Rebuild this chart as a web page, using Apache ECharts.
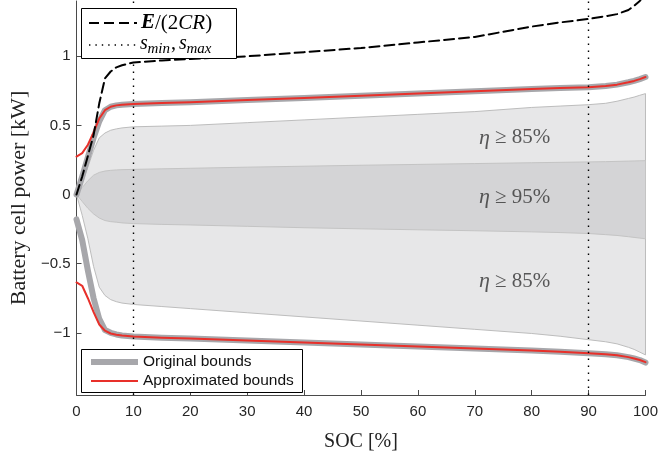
<!DOCTYPE html>
<html>
<head>
<meta charset="utf-8">
<script src="https://cdn.jsdelivr.net/npm/echarts@6/dist/echarts.min.js"></script>
<style>
  html, body { margin: 0; padding: 0; background: #fff; }
  #chart { width: 661px; height: 457px; }
</style>
</head>
<body>
<div id="chart"></div>
<script>
// State of charge sample points [%]
const soc = [0, 1, 2, 3, 4, 5, 6, 7, 8, 10, 15, 20, 30, 40, 50, 60, 70, 80, 85, 90, 93, 95, 97, 98, 99, 100];

// Energy-limited power E/(2CR) [kW]
const energyLimit = [0, 0.13, 0.28, 0.43, 0.66, 0.84, 0.89, 0.92, 0.935, 0.955, 0.97, 0.98, 1.0, 1.03, 1.06, 1.1, 1.14, 1.215, 1.245, 1.27, 1.29, 1.305, 1.335, 1.365, 1.40, 1.46];

// Original power bounds [kW]
const origUpper = [0, 0.13, 0.27, 0.41, 0.53, 0.61, 0.635, 0.645, 0.65, 0.655, 0.662, 0.668, 0.683, 0.699, 0.715, 0.731, 0.747, 0.763, 0.77, 0.776, 0.785, 0.795, 0.812, 0.822, 0.835, 0.85];
const origLower = [-0.18, -0.33, -0.55, -0.75, -0.9, -0.98, -1.0, -1.012, -1.02, -1.026, -1.035, -1.042, -1.056, -1.07, -1.085, -1.099, -1.113, -1.128, -1.137, -1.148, -1.155, -1.163, -1.176, -1.186, -1.197, -1.215];

// Approximated power bounds [kW]
const approxUpper = [0.275, 0.30, 0.36, 0.45, 0.55, 0.61, 0.635, 0.645, 0.65, 0.655, 0.662, 0.668, 0.683, 0.699, 0.715, 0.731, 0.747, 0.763, 0.77, 0.776, 0.785, 0.795, 0.812, 0.822, 0.835, 0.85];
const approxLower = [-0.636, -0.66, -0.75, -0.85, -0.94, -0.985, -1.005, -1.014, -1.02, -1.026, -1.035, -1.042, -1.056, -1.07, -1.085, -1.099, -1.113, -1.128, -1.137, -1.148, -1.155, -1.163, -1.176, -1.186, -1.197, -1.212];

// Efficiency regions: eta >= 85% and eta >= 95% [kW]
const eff85Upper = [0, 0.08, 0.2, 0.32, 0.41, 0.445, 0.465, 0.475, 0.482, 0.49, 0.495, 0.5, 0.52, 0.54, 0.56, 0.58, 0.6, 0.63, 0.64, 0.65, 0.66, 0.675, 0.695, 0.705, 0.718, 0.73];
const eff85Lower = [0, -0.15, -0.32, -0.52, -0.67, -0.73, -0.76, -0.775, -0.785, -0.795, -0.81, -0.825, -0.855, -0.885, -0.915, -0.945, -0.975, -1.005, -1.025, -1.05, -1.065, -1.08, -1.105, -1.12, -1.14, -1.16];
const eff95Upper = [0, 0.05, 0.10, 0.14, 0.16, 0.17, 0.175, 0.178, 0.18, 0.182, 0.186, 0.19, 0.198, 0.205, 0.212, 0.218, 0.224, 0.23, 0.233, 0.236, 0.238, 0.24, 0.242, 0.243, 0.244, 0.245];
const eff95Lower = [0, -0.05, -0.10, -0.14, -0.17, -0.188, -0.196, -0.2, -0.205, -0.21, -0.216, -0.22, -0.23, -0.24, -0.248, -0.255, -0.262, -0.27, -0.275, -0.282, -0.29, -0.296, -0.305, -0.31, -0.315, -0.32];

// SOC limits s_min, s_max [%]
const socLimits = [10, 90];

// Region annotations: [SOC, power, text]
const regionLabels = [
  [77, 0.41, '85%'],
  [77, -0.02, '95%'],
  [77, -0.63, '85%']
];

// Axis tick values
const xTicks = [0, 10, 20, 30, 40, 50, 60, 70, 80, 90, 100];
const yTicks = [-1, -0.5, 0, 0.5, 1];

const serif = "'Liberation Serif', 'DejaVu Serif', serif";
const sans = "'Liberation Sans', Arial, sans-serif";

const pairs = arr => soc.map((s, i) => [s, arr[i]]);

// Filled region between an upper and a lower boundary
function band(upper, lower, fill, stroke, z) {
  return {
    type: 'custom',
    coordinateSystem: 'cartesian2d',
    clip: true,
    silent: true,
    z: z,
    data: [[0, 0]],
    encode: { x: 0, y: 1 },
    renderItem: (params, api) => {
      const pts = [];
      for (let i = 0; i < soc.length; i++) pts.push(api.coord([soc[i], upper[i]]));
      for (let i = soc.length - 1; i >= 0; i--) pts.push(api.coord([soc[i], lower[i]]));
      return {
        type: 'polygon',
        shape: { points: pts },
        style: { fill: fill, stroke: stroke, lineWidth: 1 }
      };
    }
  };
}

function line(arr, color, width, dash, z) {
  return {
    type: 'line',
    data: pairs(arr),
    showSymbol: false,
    silent: true,
    clip: true,
    z: z,
    lineStyle: { color: color, width: width, type: dash || 'solid', cap: 'round', join: 'round' }
  };
}

const minusFmt = v => (v < 0 ? '\u2212' + Math.abs(v) : String(v));

const chart = echarts.init(document.getElementById('chart'), null, { renderer: 'canvas' });

chart.setOption({
  animation: false,
  backgroundColor: '#fff',
  grid: { left: 74, right: 13, top: 1, bottom: 57, containLabel: false },
  xAxis: {
    type: 'value',
    min: 0,
    max: 100,
    interval: 10,
    name: 'SOC [%]',
    nameLocation: 'middle',
    nameGap: 37,
    nameTextStyle: { fontFamily: serif, fontSize: 20, color: '#222' },
    axisLine: { show: true, onZero: false, lineStyle: { color: '#4a4a4a', width: 1 } },
    axisTick: { show: true, inside: true, length: 5, lineStyle: { color: '#4a4a4a' } },
    axisLabel: { fontFamily: sans, fontSize: 15, color: '#262626', margin: 9, customValues: xTicks },
    splitLine: { show: false }
  },
  yAxis: {
    type: 'value',
    min: -1.45,
    max: 1.4,
    name: 'Battery cell power [kW]',
    nameLocation: 'middle',
    nameGap: 40,
    nameTextStyle: { fontFamily: serif, fontSize: 22, color: '#222' },
    axisLine: { show: true, onZero: false, lineStyle: { color: '#4a4a4a', width: 1 } },
    axisTick: { show: true, inside: true, length: 5, customValues: yTicks, lineStyle: { color: '#4a4a4a' } },
    axisLabel: { fontFamily: sans, fontSize: 15, color: '#262626', margin: 6, customValues: yTicks, formatter: minusFmt },
    splitLine: { show: false }
  },
  series: [
    band(eff85Upper, eff85Lower, '#e7e7e8', '#bdbdbd', 1),
    band(eff95Upper, eff95Lower, '#d4d4d6', '#c4c4c4', 2),
    line(origUpper, '#a7a7ab', 6, 'solid', 3),
    line(origLower, '#a7a7ab', 6, 'solid', 3),
    line(approxUpper, '#e8302a', 2, 'solid', 4),
    line(approxLower, '#e8302a', 2, 'solid', 4),
    line(energyLimit, '#000', 2, [10, 5], 5),
    {
      type: 'line',
      data: [],
      silent: true,
      z: 6,
      markLine: {
        silent: true,
        symbol: 'none',
        label: { show: false },
        lineStyle: { color: '#000', width: 1.4, type: [1.4, 5.6] },
        data: socLimits.map(s => ({ xAxis: s }))
      }
    },
    {
      type: 'scatter',
      data: regionLabels.map(r => [r[0], r[1]]),
      symbolSize: 0,
      silent: true,
      z: 7,
      label: {
        show: true,
        position: 'inside',
        formatter: p => '{i|\u03B7} \u2265 ' + regionLabels[p.dataIndex][2],
        fontFamily: serif,
        fontSize: 21,
        color: '#333',
        rich: { i: { fontFamily: serif, fontStyle: 'italic', fontSize: 22, color: '#333' } }
      }
    }
  ],
  graphic: [
    // upper legend: energy limit and SOC limits
    { type: 'rect', z: 100, shape: { x: 81.5, y: 8.5, width: 155, height: 50 }, style: { fill: '#fff', stroke: '#000', lineWidth: 1 } },
    { type: 'line', z: 101, shape: { x1: 89, y1: 23, x2: 137, y2: 23 }, style: { stroke: '#000', lineWidth: 2, lineDash: [10, 5] } },
    {
      type: 'text', z: 101, x: 141, y: 23,
      style: {
        text: '{b|E}{n|/(2}{i|CR}{n|)}',
        verticalAlign: 'middle',
        rich: {
          b: { fontFamily: serif, fontStyle: 'italic', fontWeight: 'bold', fontSize: 21, fill: '#000' },
          n: { fontFamily: serif, fontSize: 21, fill: '#000' },
          i: { fontFamily: serif, fontStyle: 'italic', fontSize: 21, fill: '#000' }
        }
      }
    },
    { type: 'line', z: 101, shape: { x1: 89, y1: 45, x2: 137, y2: 45 }, style: { stroke: '#000', lineWidth: 1.4, lineDash: [1.4, 5] } },
    { type: 'text', z: 101, x: 140, y: 44, style: { text: 's', fontFamily: serif, fontStyle: 'italic', fontSize: 20, fill: '#000', verticalAlign: 'middle' } },
    { type: 'text', z: 101, x: 147.5, y: 49, style: { text: 'min', fontFamily: serif, fontStyle: 'italic', fontSize: 15, fill: '#000', verticalAlign: 'middle' } },
    { type: 'text', z: 101, x: 171, y: 44, style: { text: ',', fontFamily: serif, fontSize: 20, fill: '#000', verticalAlign: 'middle' } },
    { type: 'text', z: 101, x: 179, y: 44, style: { text: 's', fontFamily: serif, fontStyle: 'italic', fontSize: 20, fill: '#000', verticalAlign: 'middle' } },
    { type: 'text', z: 101, x: 186.5, y: 49, style: { text: 'max', fontFamily: serif, fontStyle: 'italic', fontSize: 15, fill: '#000', verticalAlign: 'middle' } },
    // lower legend: bound curves
    { type: 'rect', z: 100, shape: { x: 81.5, y: 349.5, width: 221, height: 43 }, style: { fill: '#fff', stroke: '#000', lineWidth: 1 } },
    { type: 'line', z: 101, shape: { x1: 91, y1: 362, x2: 138, y2: 362 }, style: { stroke: '#a7a7ab', lineWidth: 6 } },
    { type: 'line', z: 101, shape: { x1: 91, y1: 381, x2: 138, y2: 381 }, style: { stroke: '#e8302a', lineWidth: 2 } },
    { type: 'text', z: 101, x: 143, y: 362, style: { text: 'Original bounds', fontFamily: sans, fontSize: 15.5, fill: '#111', verticalAlign: 'middle' } },
    { type: 'text', z: 101, x: 143, y: 381, style: { text: 'Approximated bounds', fontFamily: sans, fontSize: 15.5, fill: '#111', verticalAlign: 'middle' } }
  ]
});
</script>
</body>
</html>
